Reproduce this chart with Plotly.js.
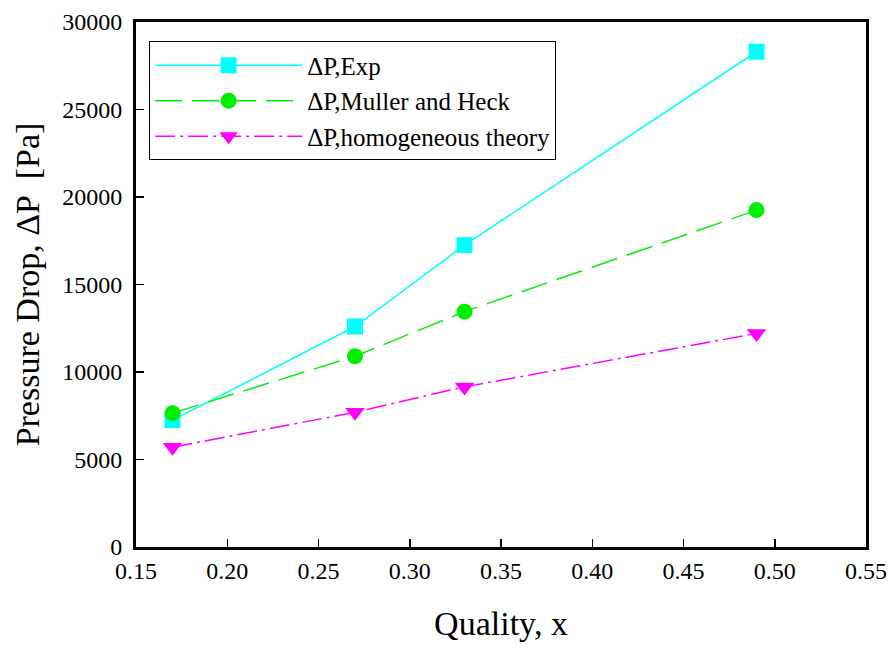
<!DOCTYPE html>
<html>
<head>
<meta charset="utf-8">
<script src="https://cdn.plot.ly/plotly-3.0.1.min.js"></script>
<style>html,body{margin:0;padding:0;background:#fff}#chart{width:891px;height:646px}</style>
</head>
<body>
<div id="chart"></div>
<script>
var quality = [0.17, 0.27, 0.33, 0.49];
var dpExp = [7250, 12600, 17250, 28300];
var dpMuller = [7650, 10900, 13450, 19250];
var dpHomog = [5700, 7700, 9150, 12200];
var seriesNames = ['\u0394P,Exp', '\u0394P,Muller and Heck', '\u0394P,homogeneous theory'];
var xTicks = [0.15, 0.20, 0.25, 0.30, 0.35, 0.40, 0.45, 0.50, 0.55];
var yTicks = [0, 5000, 10000, 15000, 20000, 25000, 30000];

var font = 'Liberation Serif';
var traces = [
  {x: quality, y: dpExp, name: seriesNames[0], mode: 'lines+markers', type: 'scatter',
   line: {color: '#00FFFF', width: 1.5},
   marker: {symbol: 'square', size: 16, color: '#00FFFF'}},
  {x: quality, y: dpMuller, name: seriesNames[1], mode: 'lines+markers', type: 'scatter',
   line: {color: '#00EE00', width: 1.5, dash: '27px,10px'},
   marker: {symbol: 'circle', size: 16, color: '#00EE00'}},
  {x: quality, y: dpHomog, name: seriesNames[2], mode: 'lines+markers', type: 'scatter',
   line: {color: '#FF00FF', width: 1.5, dash: '20px,5px,3px,5px'},
   marker: {symbol: 'triangle-down', size: 17, color: '#FF00FF'}}
];
var layout = {
  width: 891, height: 646,
  margin: {l: 136, r: 25, t: 22, b: 99},
  paper_bgcolor: '#fff', plot_bgcolor: '#fff',
  font: {family: font, color: '#000', size: 22},
  showlegend: true,
  legend: {x: 0.018, y: 0.963, xanchor: 'left', yanchor: 'top',
    bordercolor: '#000', borderwidth: 1, bgcolor: '#fff',
    font: {family: font, size: 25, color: '#000'},
    itemwidth: 147, tracegroupgap: 0},
  xaxis: {range: [0.15, 0.55], tickvals: xTicks, ticktext: xTicks.map(function(v){return v.toFixed(2);}),
    ticks: 'inside', ticklen: 8, tickwidth: 1.5, tickcolor: '#000',
    showline: true, linewidth: 3, linecolor: '#000', mirror: true,
    showgrid: false, zeroline: false,
    tickfont: {family: font, size: 24, color: '#000'},
    title: {text: 'Quality, x', font: {family: font, size: 34, color: '#000'}, standoff: 29}},
  yaxis: {range: [0, 30000], tickvals: yTicks, ticktext: yTicks.map(String),
    ticks: 'inside', ticklen: 8, tickwidth: 1.5, tickcolor: '#000',
    showline: true, linewidth: 3, linecolor: '#000', mirror: true,
    showgrid: false, zeroline: false, ticklabelstandoff: 6,
    tickfont: {family: font, size: 24, color: '#000'},
    title: {text: 'Pressure Drop, \u0394P  [Pa]', font: {family: font, size: 34, color: '#000'}, standoff: 13}}
};
Plotly.newPlot('chart', traces, layout, {displayModeBar: false, staticPlot: true});
</script>
</body>
</html>
